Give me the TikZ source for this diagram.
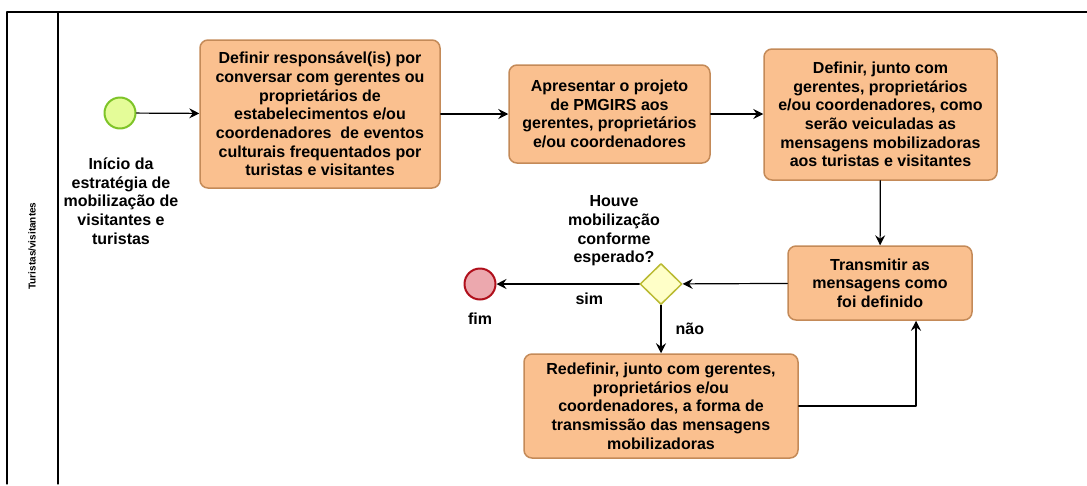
\documentclass[tikz,border=0pt]{standalone}
\usepackage{fontspec}
\setmainfont{Liberation Sans}
\usetikzlibrary{arrows.meta, shapes.geometric}

\definecolor{taskfill}{RGB}{250,192,143}
\definecolor{taskline}{RGB}{196,138,88}
\definecolor{startfill}{RGB}{228,252,152}
\definecolor{startline}{RGB}{126,196,40}
\definecolor{endfill}{RGB}{236,168,174}
\definecolor{endline}{RGB}{176,16,28}
\definecolor{gwfill}{RGB}{255,255,200}
\definecolor{gwline}{RGB}{186,186,50}

\begin{document}
\begin{tikzpicture}[x=1pt, y=-1pt, line cap=round, line join=round,
    >={Stealth[length=10pt, width=10pt, inset=3.5pt]},
    txt/.style={font=\bfseries\fontsize{16}{18.7}\selectfont, align=center, inner sep=0pt},
    task/.style={txt, draw=taskline, fill=taskfill, line width=1.5pt, rounded corners=8pt},
    startev/.style={circle, draw=startline, fill=startfill, line width=2pt, minimum size=31pt, inner sep=0pt},
    endev/.style={circle, draw=endline, fill=endfill, line width=2pt, minimum size=31pt, inner sep=0pt},
    gateway/.style={diamond, draw=gwline, fill=gwfill, line width=1.5pt, minimum width=42pt, minimum height=41pt, inner sep=0pt},
    flow/.style={->, line width=1.2pt}]

    % ── Frame (page size 1087 x 485) ─────────────────────────────────────────
    \useasboundingbox (0,0) rectangle (1087,485);
    \draw[line width=1.3pt] (7,484) -- (7,12) -- (1087,12);
    \draw[line width=1.3pt] (58,12) -- (58,484);

    % Lane label
    \node[rotate=90, font=\bfseries\fontsize{10}{11}\selectfont] (lane) at (32,246)
        {Turistas/visitantes};

    % ── Events and gateway ────────────────────────────────────────────────────
    \node[startev] (start) at (120,113) {};
    \node[txt] (startlbl) at (121,201)
        {Início da\\estratégia de\\mobilização de\\visitantes e\\turistas};

    \node[gateway] (gw) at (661,284) {};
    \node[txt] (gwlbl) at (614,231)
        {Houve\\mobilização\\conforme\\esperado?};

    \node[endev] (fim) at (480,284) {};
    \node[txt] (fimlbl) at (480,319) {fim};

    % ── Tasks ─────────────────────────────────────────────────────────────────
    \node[task, minimum width=240pt, minimum height=148pt] (defResp) at (320,114)
        {Definir responsável(is) por\\conversar com gerentes ou\\proprietários de\\estabelecimentos e/ou\\coordenadores\ \ de eventos\\culturais frequentados por\\turistas e visitantes};

    \node[task, minimum width=201pt, minimum height=98pt] (apresentar) at (609.5,114)
        {Apresentar o projeto\\de PMGIRS aos\\gerentes, proprietários\\e/ou coordenadores};

    \node[task, minimum width=233pt, minimum height=131pt] (defVeic) at (880.5,114.5)
        {Definir, junto com\\gerentes, proprietários\\e/ou coordenadores, como\\serão veiculadas as\\mensagens mobilizadoras\\aos turistas e visitantes};

    \node[task, minimum width=184pt, minimum height=74pt] (transmitir) at (880,283)
        {Transmitir as\\mensagens como\\foi definido};

    \node[task, minimum width=274pt, minimum height=104pt] (redefinir) at (661,406)
        {Redefinir, junto com gerentes,\\proprietários e/ou\\coordenadores, a forma de\\transmissão das mensagens\\mobilizadoras};

    % ── Sequence flows ────────────────────────────────────────────────────────
    \draw[flow] (start) -- (defResp);
    \draw[flow] (defResp.east |- apresentar) -- (apresentar);
    \draw[flow] (apresentar) -- (defVeic.west |- apresentar);
    \draw[flow] (defVeic) -- (transmitir);
    \draw[flow] (transmitir) -- (gw);
    \draw[flow] (gw) -- node[txt, pos=0.35, yshift=-15pt] (sim) {sim} (fim);
    \draw[flow] (gw) -- node[txt, midway, right=14pt] (nao) {não} (redefinir);
    \draw[flow] (redefinir.east) -| ([xshift=36pt]transmitir.south);

\end{tikzpicture}
\end{document}
